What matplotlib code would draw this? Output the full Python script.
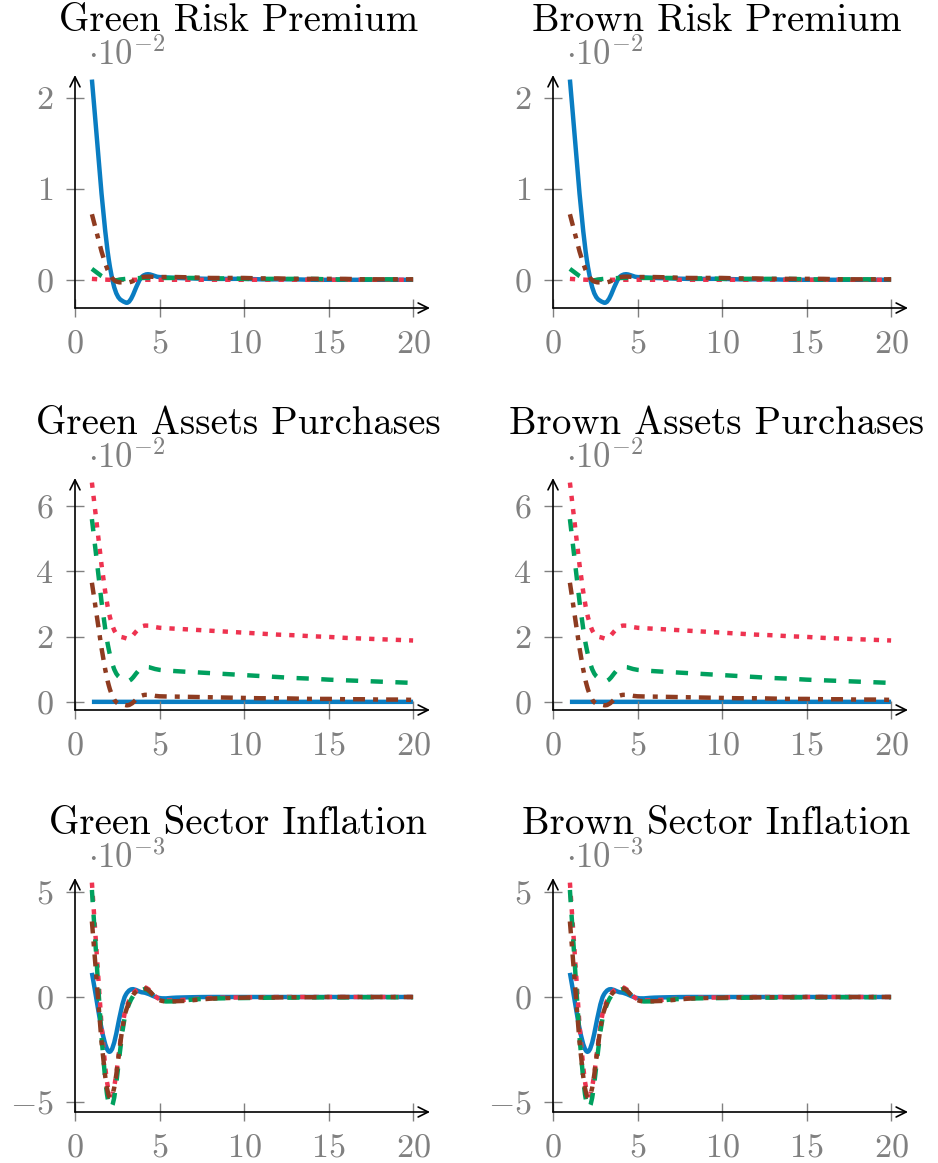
import numpy as np
import matplotlib
matplotlib.use('Agg')
import matplotlib.pyplot as plt
from matplotlib.path import Path
from matplotlib.patches import PathPatch
from matplotlib.ticker import FixedLocator, FuncFormatter

# 字体: matplotlib 自带的 Computer Modern
plt.rcParams['font.family'] = ['cmr10', 'DejaVu Serif']
plt.rcParams['mathtext.fontset'] = 'cm'
plt.rcParams['axes.formatter.use_mathtext'] = True
plt.rcParams['lines.scale_dashes'] = False

# ---- 数据 ----
periods = list(range(1, 21))

# 风险溢价 (x 1e-2)
rp_blue = [2.2, 0.22, -0.25, 0.04, 0.03, 0.02, 0.015, 0.01, 0.01, 0.01,
           0.005, 0.005, 0.005, 0.0, 0.0, 0.0, 0.0, 0.0, 0.0, 0.0]
rp_red = [0.01, 0.0, 0.0, 0.0, 0.0, 0.0, 0.0, 0.0, 0.0, 0.0,
          0.0, 0.0, 0.0, 0.0, 0.0, 0.0, 0.0, 0.0, 0.0, 0.0]
rp_green = [0.12, 0.0, 0.01, 0.02, 0.02, 0.02, 0.02, 0.015, 0.015, 0.01,
            0.01, 0.01, 0.01, 0.01, 0.005, 0.005, 0.005, 0.005, 0.005, 0.005]
rp_brown = [0.72, 0.08, -0.03, 0.03, 0.03, 0.03, 0.025, 0.02, 0.02, 0.02,
            0.015, 0.015, 0.01, 0.01, 0.01, 0.01, 0.005, 0.005, 0.005, 0.005]

# 资产购买 (x 1e-2)
ap_blue = [0.0] * 20
ap_red = [6.72, 2.75, 1.95, 2.32, 2.27, 2.24, 2.21, 2.18, 2.15, 2.12,
          2.09, 2.06, 2.04, 2.01, 1.99, 1.96, 1.94, 1.92, 1.9, 1.88]
ap_green = [5.6, 1.6, 0.65, 1.05, 0.98, 0.94, 0.91, 0.88, 0.85, 0.82,
            0.79, 0.76, 0.73, 0.71, 0.68, 0.66, 0.64, 0.62, 0.6, 0.58]
ap_brown = [3.65, 0.5, -0.1, 0.2, 0.17, 0.16, 0.15, 0.14, 0.13, 0.12,
            0.11, 0.11, 0.1, 0.09, 0.09, 0.08, 0.08, 0.07, 0.07, 0.06]

# 部门通胀 (x 1e-3)
inf_blue = [1.15, -2.6, 0.1, 0.22, -0.05, -0.03, -0.01, 0.0, 0.0, 0.0,
            0.0, 0.0, 0.0, 0.0, 0.0, 0.0, 0.0, 0.0, 0.0, 0.0]
inf_red = [5.45, -4.5, -0.6, 0.45, -0.1, -0.15, -0.1, -0.05, -0.03, -0.02,
           -0.01, 0.0, 0.0, 0.0, 0.0, 0.0, 0.0, 0.0, 0.0, 0.0]
inf_green = [5.1, -5.1, -0.8, 0.35, -0.15, -0.2, -0.12, -0.08, -0.06, -0.05,
             -0.04, -0.03, -0.03, -0.02, -0.02, -0.02, -0.01, -0.01, -0.01, -0.01]
inf_brown = [3.6, -4.7, -0.7, 0.4, -0.15, -0.2, -0.15, -0.08, -0.05, -0.03,
             -0.02, -0.02, -0.01, -0.01, 0.0, 0.0, 0.0, 0.0, 0.0, 0.0]

titles_green = ['Green Risk Premium', 'Green Assets Purchases', 'Green Sector Inflation']
titles_brown = ['Brown Risk Premium', 'Brown Assets Purchases', 'Brown Sector Inflation']
scale_exp = [-2, -2, -3]
yticks = [[0, 1, 2], [0, 2, 4, 6], [-5, 0, 5]]
xticks = [0, 5, 10, 15, 20]
ylims = [(-0.31, 2.25), (-0.25, 6.86), (-5.48, 5.67)]

rows = [
    [rp_blue, rp_red, rp_green, rp_brown],
    [ap_blue, ap_red, ap_green, ap_brown],
    [inf_blue, inf_red, inf_green, inf_brown],
]

# 线型: 蓝实线, 红点线, 绿虚线, 棕点划线
styles = [
    dict(color='#0A7DC2', ls='-'),
    dict(color='#EE3350', ls=(0, (3.8, 5.8))),
    dict(color='#00A05E', ls=(0, (8.8, 9.0))),
    dict(color='#8E3B20', ls=(0, (8.6, 5.8, 3.6, 5.8))),
]
LW = 3.2
GRAY = '#808080'


def smooth_path(xs, ys, tension=0.55):
    """类似 pgfplots smooth 的三次贝塞尔路径"""
    pts = np.column_stack([xs, ys]).astype(float)
    n = len(pts)
    verts = [pts[0]]
    codes = [Path.MOVETO]
    for i in range(n - 1):
        p0 = pts[i - 1] if i > 0 else pts[i]
        p1 = pts[i]
        p2 = pts[i + 1]
        p3 = pts[i + 2] if i + 2 < n else pts[i + 1]
        c1 = p1 + (p2 - p0) * tension / 3
        c2 = p2 - (p3 - p1) * tension / 3
        verts += [c1, c2, p2]
        codes += [Path.CURVE4] * 3
    return Path(verts, codes)


W, H = 938, 1163
fig = plt.figure(figsize=(W / 100, H / 100), dpi=100)

row_px = [(75, 308), (478, 710), (878, 1112)]
col_px = [(75, 430), (553, 908)]

for r in range(3):
    top, bot = row_px[r]
    for c in range(2):
        left, right = col_px[c]
        ax = fig.add_axes([left / W, 1 - bot / H, (right - left) / W, (bot - top) / H])
        ax.set_xlim(0, 21)
        ax.set_ylim(*ylims[r])
        for s in ax.spines.values():
            s.set_visible(False)

        for data, st in zip(rows[r], styles):
            patch = PathPatch(smooth_path(periods, data), fill=False, edgecolor=st['color'],
                              linestyle=st['ls'], linewidth=LW, capstyle='butt', joinstyle='round')
            ax.add_patch(patch)

        # 坐标轴箭头
        arrow = dict(arrowstyle='->', lw=1.2, color='black', mutation_scale=18,
                     shrinkA=0, shrinkB=0)
        ax.annotate('', xy=(1, 0), xytext=(0, 0), xycoords='axes fraction', arrowprops=arrow)
        ax.annotate('', xy=(0, 1), xytext=(0, 0), xycoords='axes fraction', arrowprops=arrow)

        ax.xaxis.set_major_locator(FixedLocator(xticks))
        ax.yaxis.set_major_locator(FixedLocator(yticks[r]))
        fmt = FuncFormatter(lambda v, p: r'$%d$' % v)
        ax.xaxis.set_major_formatter(fmt)
        ax.yaxis.set_major_formatter(fmt)
        ax.tick_params(axis='both', which='major', direction='inout', length=13, width=1,
                       color=GRAY, labelcolor=GRAY, labelsize=24.5)
        ax.tick_params(axis='x', pad=9)
        ax.tick_params(axis='y', pad=9)
        ax.tick_params(top=False, right=False)

        title = (titles_green if c == 0 else titles_brown)[r]
        ax.annotate(title, xy=(10, 1), xycoords=('data', 'axes fraction'),
                    xytext=(-4, 32), textcoords='offset points', ha='center', va='baseline',
                    fontsize=28, color='black')
        ax.annotate(r'$\cdot 10^{%d}$' % scale_exp[r], xy=(0.75, 1),
                    xycoords=('data', 'axes fraction'), xytext=(0, 7),
                    textcoords='offset points', ha='left', va='baseline',
                    fontsize=25, color=GRAY)

fig.savefig('out.png', dpi=100)
